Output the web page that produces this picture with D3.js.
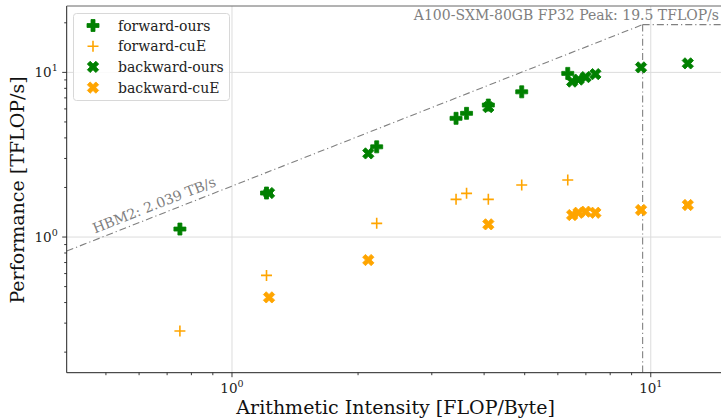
<!DOCTYPE html>
<html><head><meta charset="utf-8">
<script src="https://cdn.jsdelivr.net/npm/d3@7"></script>
<style>
body{margin:0;background:#fff;}
svg{display:block;font-family:"DejaVu Serif",serif;}
</style></head>
<body><svg id="c" width="721" height="419"></svg>
<script>
// ---- data ----
const fwdX = [0.751, 1.209, 2.216, 3.428, 3.632, 4.094, 4.919, 6.336];
const fwdOurs = [1.118, 1.85, 3.53, 5.26, 5.64, 6.33, 7.62, 9.86];
const fwdCuE = [0.269, 0.585, 1.211, 1.694, 1.842, 1.694, 2.07, 2.22];
const bwdX = [1.226, 2.116, 4.094, 6.49, 6.72, 6.99, 7.375, 9.48, 12.26];
const bwdOurs = [1.85, 3.22, 6.15, 8.79, 9.04, 9.36, 9.76, 10.72, 11.34];
const bwdCuE = [0.430, 0.725, 1.194, 1.36, 1.404, 1.425, 1.404, 1.459, 1.565];
const seriesNames = ["forward-ours", "forward-cuE", "backward-ours", "backward-cuE"];
const peakTFLOPs = 19.5;
const bandwidthTBs = 2.039;
const peakLabel = "A100-SXM-80GB FP32 Peak: 19.5 TFLOP/s";
const bwLabel = "HBM2: 2.039 TB/s";
const xMajor = [1, 10];
const yMajor = [1, 10];
const xLabel = "Arithmetic Intensity [FLOP/Byte]";
const yLabel = "Performance [TFLOP/s]";

const svg = d3.select("#c");
const L = 66.7, R = 724.5, T = 6, B = 372.7;
const x = d3.scaleLog().domain([0.403, 15]).range([L, R]);
const y = d3.scaleLog().domain([0.15, 25.3]).range([B, T]);

svg.append("defs").append("clipPath").attr("id","clip")
  .append("rect").attr("x",L).attr("y",T).attr("width",R-L).attr("height",B-T);

// grid
const grid = svg.append("g");
xMajor.forEach(v=>grid.append("line").attr("x1",x(v)).attr("x2",x(v)).attr("y1",T).attr("y2",B)
  .attr("stroke","#dcdcdc").attr("stroke-width",1));
yMajor.forEach(v=>grid.append("line").attr("y1",y(v)).attr("y2",y(v)).attr("x1",L).attr("x2",R)
  .attr("stroke","#dcdcdc").attr("stroke-width",1));

// roofline
const ridge = peakTFLOPs / bandwidthTBs;
const roof = svg.append("g").attr("clip-path","url(#clip)");
const dash = "7,3,1.2,3";
roof.append("line").attr("x1",x(0.403)).attr("y1",y(0.403*bandwidthTBs))
  .attr("x2",x(ridge)).attr("y2",y(peakTFLOPs))
  .attr("stroke","#808080").attr("stroke-width",1.1).attr("stroke-dasharray",dash);
roof.append("line").attr("x1",x(ridge)).attr("y1",y(peakTFLOPs))
  .attr("x2",x(15)).attr("y2",y(peakTFLOPs))
  .attr("stroke","#808080").attr("stroke-width",1.1).attr("stroke-dasharray",dash);
roof.append("line").attr("x1",x(ridge)).attr("y1",y(peakTFLOPs))
  .attr("x2",x(ridge)).attr("y2",B)
  .attr("stroke","#808080").attr("stroke-width",1.1).attr("stroke-dasharray",dash);

// labels on roofline
svg.append("text").attr("x",719).attr("y",20).attr("text-anchor","end")
  .attr("font-size",14).attr("fill","#808080").text(peakLabel);
const ang = Math.atan2(y(1)-y(10), x(10)-x(1)) * 180/Math.PI;
const lx = 95, ly = y(x.invert(lx)*bandwidthTBs) - 6.5;
svg.append("text").attr("transform",`translate(${lx},${ly}) rotate(${-ang})`)
  .attr("font-size",14).attr("fill","#808080").text(bwLabel);

// marker paths
function plusFilled(s){ // s = half-width
  const a = s/3;
  return `M${-a},${-s}H${a}V${-a}H${s}V${a}H${a}V${s}H${-a}V${a}H${-s}V${-a}H${-a}Z`;
}
const green = "#008000", orange = "#ffa500";
function drawP(g, cx, cy, color, rot){
  g.append("path").attr("d",plusFilled(6)).attr("transform",`translate(${cx},${cy}) rotate(${rot})`)
   .attr("fill",color).attr("stroke",color).attr("stroke-width",0.8).attr("stroke-linejoin","round");
}
function drawPlus(g, cx, cy, color){
  g.append("path").attr("d","M-5.5,0H5.5M0,-5.5V5.5").attr("transform",`translate(${cx},${cy})`)
   .attr("stroke",color).attr("stroke-width",1.6).attr("fill","none");
}
const pts = svg.append("g");
fwdX.forEach((v,i)=>drawP(pts, x(v), y(fwdOurs[i]), green, 0));
fwdX.forEach((v,i)=>drawPlus(pts, x(v), y(fwdCuE[i]), orange));
bwdX.forEach((v,i)=>drawP(pts, x(v), y(bwdOurs[i]), green, 45));
bwdX.forEach((v,i)=>drawP(pts, x(v), y(bwdCuE[i]), orange, 45));

// axes spines
const ax = svg.append("g").attr("stroke","#222").attr("stroke-width",1);
ax.append("line").attr("x1",L).attr("x2",L).attr("y1",T).attr("y2",B);
ax.append("line").attr("x1",L).attr("x2",R+5).attr("y1",B).attr("y2",B);
ax.append("line").attr("x1",L).attr("x2",R+5).attr("y1",T).attr("y2",T).attr("stroke","#666");

// ticks
function minorTicks(scale){
  const [a,b] = scale.domain(); const out=[];
  for(let e=-2;e<=2;e++) for(let m=1;m<10;m++){const v=m*Math.pow(10,e); if(v>=a&&v<=b) out.push(v);}
  return out;
}
const tk = svg.append("g").attr("stroke","#222").attr("stroke-width",0.9);
minorTicks(x).forEach(v=>{const major=xMajor.includes(v);
  tk.append("line").attr("x1",x(v)).attr("x2",x(v)).attr("y1",B).attr("y2",B+(major?4.5:2.5));});
minorTicks(y).forEach(v=>{const major=yMajor.includes(v);
  tk.append("line").attr("y1",y(v)).attr("y2",y(v)).attr("x1",L).attr("x2",L-(major?4.5:2.5));});

function powLabel(sel, exp){
  sel.append("tspan").text("10");
  sel.append("tspan").attr("dy",-6).attr("font-size",9.5).text(exp);
}
xMajor.forEach(v=>{
  const t = svg.append("text").attr("x",x(v)).attr("y",B+20).attr("text-anchor","middle")
    .attr("font-size",13.5).attr("fill","#222");
  powLabel(t, Math.round(Math.log10(v)));
});
yMajor.forEach(v=>{
  const t = svg.append("text").attr("x",L-9).attr("y",y(v)+5).attr("text-anchor","end")
    .attr("font-size",13.5).attr("fill","#222");
  powLabel(t, Math.round(Math.log10(v)));
});

// axis labels
svg.append("text").attr("x",(L+R)/2).attr("y",414).attr("text-anchor","middle")
  .attr("font-size",19).attr("fill","#111").text(xLabel);
svg.append("text").attr("transform",`translate(24,190) rotate(-90)`).attr("text-anchor","middle")
  .attr("font-size",19).attr("fill","#111").text(yLabel);

// legend
const lg = svg.append("g");
lg.append("rect").attr("x",73.5).attr("y",13.5).attr("width",156).attr("height",87).attr("rx",3)
  .attr("fill","#fff").attr("fill-opacity",0.85).attr("stroke","#d8d8d8").attr("stroke-width",1);
const ly0 = 25.5, dy = 20.7;
seriesNames.forEach((n,i)=>{
  const cy = ly0 + i*dy, cx = 93;
  if(i===0) drawP(lg, cx, cy, green, 0);
  if(i===1) drawPlus(lg, cx, cy, orange);
  if(i===2) drawP(lg, cx, cy, green, 45);
  if(i===3) drawP(lg, cx, cy, orange, 45);
  lg.append("text").attr("x",118).attr("y",cy+5).attr("font-size",14).attr("fill","#222").text(n);
});
</script></body></html>
